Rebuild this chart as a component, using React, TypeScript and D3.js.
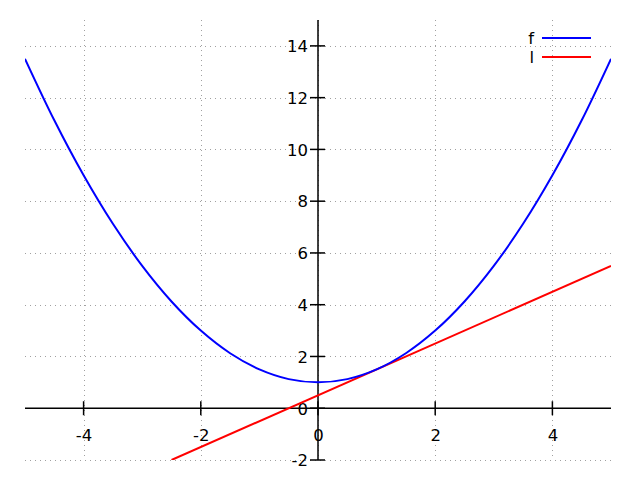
import React from "react";
import * as d3 from "d3";

const fX = [-5, -4.5, -4, -3.5, -3, -2.5, -2, -1.5, -1, -0.5, 0, 0.5, 1, 1.5, 2, 2.5, 3, 3.5, 4, 4.5, 5];
const fY = [13.5, 11.125, 9, 7.125, 5.5, 4.125, 3, 2.125, 1.5, 1.125, 1, 1.125, 1.5, 2.125, 3, 4.125, 5.5, 7.125, 9, 11.125, 13.5];
const lX = [-2.5, 5];
const lY = [-2, 5.5];
const xTicks = [-4, -2, 0, 2, 4];
const yTicks = [-2, 0, 2, 4, 6, 8, 10, 12, 14];
const seriesNames = ["f", "l"];
const seriesColors = ["#0000ff", "#ff0000"];

const W = 640, H = 480;
const left = 25, right = 611, top = 20, bottom = 460;
const FONT = "DejaVu Sans, sans-serif";
const FS = 16.5;

export default function App() {
  const x = d3.scaleLinear().domain([-5, 5]).range([left, right]);
  const y = d3.scaleLinear().domain([-2, 15]).range([bottom, top]);
  const line = d3.line<[number, number]>().x(d => x(d[0])).y(d => y(d[1])).curve(d3.curveCatmullRom);
  const fData = fX.map((v, i) => [v, fY[i]] as [number, number]);
  const lData = lX.map((v, i) => [v, lY[i]] as [number, number]);
  const x0 = x(0), y0 = y(0);
  return (
    <svg width={W} height={H} style={{ position: "absolute", left: 0, top: 0, background: "#fff" }} fontFamily={FONT}>
      <rect x={0} y={0} width={W} height={H} fill="#fff" />
      <clipPath id="plot"><rect x={left} y={top} width={right - left} height={bottom - top} /></clipPath>
      <g stroke="#a0a0a0" strokeWidth={1} strokeDasharray="1,4">
        {xTicks.map(t => <line key={"gx" + t} x1={Math.round(x(t)) + 0.5} x2={Math.round(x(t)) + 0.5} y1={top} y2={bottom} />)}
        {yTicks.map(t => <line key={"gy" + t} x1={left} x2={right} y1={Math.round(y(t)) + 0.5} y2={Math.round(y(t)) + 0.5} />)}
      </g>
      <g stroke="#000" strokeWidth={1.5}>
        <line x1={left} x2={right} y1={y0} y2={y0} />
        <line x1={x0} x2={x0} y1={top} y2={bottom} />
        {xTicks.map(t => <line key={"tx" + t} x1={x(t)} x2={x(t)} y1={y0 - 7} y2={y0 + 7} />)}
        {yTicks.map(t => <line key={"ty" + t} x1={x0 - 8} x2={x0 + 7} y1={y(t)} y2={y(t)} />)}
      </g>
      <g fontSize={FS} fill="#000">
        {xTicks.map(t => <text key={"lx" + t} x={x(t) + 0.5} y={y0 + 32.5} textAnchor="middle">{t}</text>)}
        {yTicks.map(t => <text key={"ly" + t} x={x0 - 10} y={y(t) + 6.3} textAnchor="end">{t}</text>)}
      </g>
      <g clipPath="url(#plot)" fill="none" strokeWidth={2}>
        <path d={line(lData) || ""} stroke={seriesColors[1]} />
        <path d={line(fData) || ""} stroke={seriesColors[0]} />
      </g>
      <g fontSize={FS}>
        {seriesNames.map((n, i) => (
          <g key={n}>
            <text x={534} y={38 + i * 19 + 6} textAnchor="end" fill="#000">{n}</text>
            <line x1={542} x2={591} y1={38 + i * 19} y2={38 + i * 19} stroke={seriesColors[i]} strokeWidth={2} />
          </g>
        ))}
      </g>
    </svg>
  );
}
